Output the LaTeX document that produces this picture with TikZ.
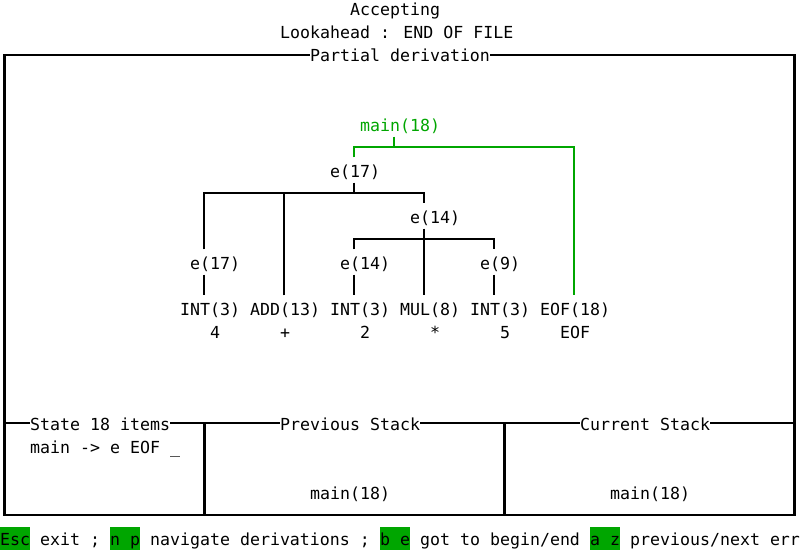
\documentclass[tikz,border=0pt]{standalone}
\usepackage{fontspec}
\newfontfamily\termfont{DejaVu Sans Mono}
\definecolor{termgreen}{RGB}{0,166,0}

\begin{document}
\begin{tikzpicture}[x=1pt,y=-1pt,line width=2.2pt,
  cell/.style={font={\fontsize{16.6}{20}\termfont},inner sep=0pt,text height=18.5pt,text depth=4.5pt,anchor=base west},
  title/.style={cell,fill=white},
  key/.style={cell,fill=termgreen},
  edge/.style={draw=black},
  sel/.style={draw=termgreen}]
\useasboundingbox (0,0) rectangle (801,551);
\node[cell] (acc) at (349,16) {Accepting};
\node[cell] (look) at (279,39) {Lookahead : END OF FILE};
\draw (4.5,55) rectangle (794.5,515);
\draw (4.5,423) -- (794.5,423);
\draw (204.5,423) -- (204.5,515);
\draw (504.5,423) -- (504.5,515);
\node[title] (partial) at (309,62) {Partial derivation};
\node[title] (items) at (29,430) {State 18 items};
\node[title] (prev) at (279,430) {Previous Stack};
\node[title] (curr) at (579,430) {Current Stack};
\node[cell] (item1) at (29,453) {main -> e EOF \_};
\node[cell] (prevtop) at (309,499) {main(18)};
\node[cell] (currtop) at (609,499) {main(18)};

\node[cell,text=termgreen] (main) at (359,131) {main(18)};
\node[cell] (e17) at (329,177) {e(17)};
\node[cell] (e14) at (409,223) {e(14)};
\node[cell] (e17a) at (189,269) {e(17)};
\node[cell] (e14a) at (339,269) {e(14)};
\node[cell] (e9) at (479,269) {e(9)};
\node[cell] (int1) at (179,315) {INT(3)};
\node[cell] (add) at (249,315) {ADD(13)};
\node[cell] (int2) at (329,315) {INT(3)};
\node[cell] (mul) at (399,315) {MUL(8)};
\node[cell] (int3) at (469,315) {INT(3)};
\node[cell] (eof) at (539,315) {EOF(18)};
\node[cell] (v1) at (209,338) {4};
\node[cell] (v2) at (279,338) {+};
\node[cell] (v3) at (359,338) {2};
\node[cell] (v4) at (429,338) {*};
\node[cell] (v5) at (499,338) {5};
\node[cell] (v6) at (559,338) {EOF};

\draw[sel] (main.south -| 394,0) -- (394,147);
\draw[sel] (e17.north -| 354,0) -- (354,147) -- (574,147) -- (eof.north -| 574,0);
\draw[edge] (e17.south -| 354,0) -- (354,193);
\draw[edge] (e17a.north -| 204,0) -- (204,193) -- (424,193) -- (e14.north -| 424,0);
\draw[edge] (add.north -| 284,0) -- (284,193);
\draw[edge] (e14.south -| 424,0) -- (mul.north -| 424,0);
\draw[edge] (e14a.north -| 354,0) -- (354,239) -- (494,239) -- (e9.north -| 494,0);
\draw[edge] (e17a.south -| 204,0) -- (int1.north -| 204,0);
\draw[edge] (e14a.south -| 354,0) -- (int2.north -| 354,0);
\draw[edge] (e9.south -| 494,0) -- (int3.north -| 494,0);

\node[key] (esc) at (-1,545) {Esc};
\node[cell] (exit) at (29,545) {\ exit ;\ };
\node[key] (np) at (109,545) {n p};
\node[cell] (nav) at (139,545) {\ navigate derivations ;\ };
\node[key] (be) at (379,545) {b e};
\node[cell] (begin) at (409,545) {\ got to begin/end\ };
\node[key] (az) at (589,545) {a z};
\node[cell] (next) at (619,545) {\ previous/next err};
\end{tikzpicture}
\end{document}
